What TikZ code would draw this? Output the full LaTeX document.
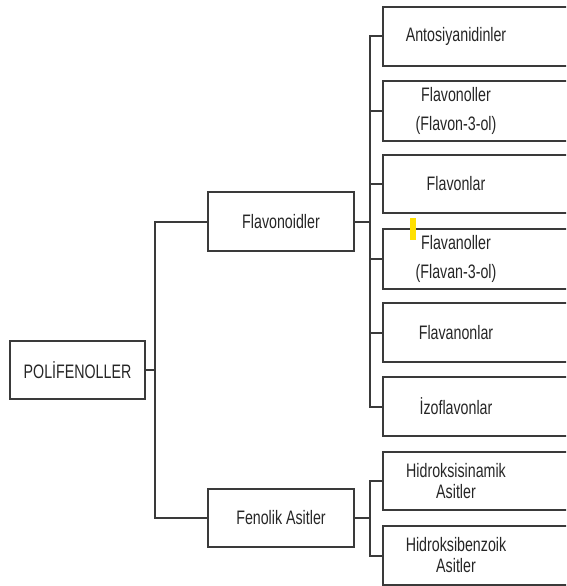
\documentclass[tikz,border=0pt]{standalone}
\usepackage{fontspec}
\setmainfont[FakeStretch=0.73]{Liberation Sans}
\usepackage{tikz}
\usetikzlibrary{calc}

\definecolor{linegray}{HTML}{3A3A3A}
\definecolor{markyellow}{HTML}{FFE000}

\begin{document}
\begin{tikzpicture}[x=1pt, y=-1pt,
    box/.style={draw=linegray, line width=2pt, minimum width=146pt, minimum height=59pt,
                inner sep=0pt, align=center, text=black!85, font=\fontsize{19.5}{21}\selectfont},
    leaf/.style={minimum width=146pt, minimum height=59pt, inner sep=0pt, align=center,
                text=black!85, font=\fontsize{19.5}{21}\selectfont},
    conn/.style={draw=linegray, line width=2pt}]

    \useasboundingbox (0,0) rectangle (566,586);
    \clip (0,0) rectangle (566,586);

    \node[box, minimum width=135pt, minimum height=58pt] (poli) at (77.5,370) {POL\.IFENOLLER};
    \node[box] (flavonoid) at (281,221.5) {Flavonoidler};
    \node[box, minimum height=58pt] (fenolik) at (281,518) {Fenolik Asitler};

    \node[leaf] (antosi) at (456,36.5) {Antosiyanidinler};
    \node[leaf, minimum height=60pt] (flavonol) at (456,111) {Flavonoller\\[8pt](Flavon-3-ol)};
    \node[leaf, minimum height=58pt] (flavon) at (456,184) {Flavonlar};
    \node[leaf, minimum height=60pt] (flavanol) at (456,259) {Flavanoller\\[8pt](Flavan-3-ol)};
    \node[leaf] (flavanon) at (456,332.5) {Flavanonlar};
    \node[leaf] (izoflavon) at (456,406.5) {\.Izoflavonlar};
    \node[leaf, minimum height=58pt] (sinamik) at (456,481) {Hidroksisinamik\\Asitler};
    \node[leaf] (benzoik) at (456,555.5) {Hidroksibenzoik\\Asitler};

    % leaf frames run past the right edge
    \draw[conn] (antosi.north west) rectangle ($(antosi.south east)+(60,0)$);
    \draw[conn] (flavonol.north west) rectangle ($(flavonol.south east)+(60,0)$);
    \draw[conn] (flavon.north west) rectangle ($(flavon.south east)+(60,0)$);
    \draw[conn] (flavanol.north west) rectangle ($(flavanol.south east)+(60,0)$);
    \draw[conn] (flavanon.north west) rectangle ($(flavanon.south east)+(60,0)$);
    \draw[conn] (izoflavon.north west) rectangle ($(izoflavon.south east)+(60,0)$);
    \draw[conn] (sinamik.north west) rectangle ($(sinamik.south east)+(60,0)$);
    \draw[conn] (benzoik.north west) rectangle ($(benzoik.south east)+(60,0)$);

    \draw[conn] (poli.east) -- ++(9,0) |- (flavonoid.west);
    \draw[conn] (poli.east) -- ++(9,0) |- (fenolik.west);

    \draw[conn] (flavonoid.east) -- ++(15,0) |- (antosi.west);
    \draw[conn] (flavonoid.east) -- ++(15,0) |- (flavonol.west);
    \draw[conn] (flavonoid.east) -- ++(15,0) |- (flavon.west);
    \draw[conn] (flavonoid.east) -- ++(15,0) |- (flavanol.west);
    \draw[conn] (flavonoid.east) -- ++(15,0) |- (flavanon.west);
    \draw[conn] (flavonoid.east) -- ++(15,0) |- (izoflavon.west);

    \draw[conn] (fenolik.east) -- ++(15,0) |- (sinamik.west);
    \draw[conn] (fenolik.east) -- ++(15,0) |- (benzoik.west);

    \fill[markyellow] (410,218) rectangle (416,240);

\end{tikzpicture}
\end{document}
